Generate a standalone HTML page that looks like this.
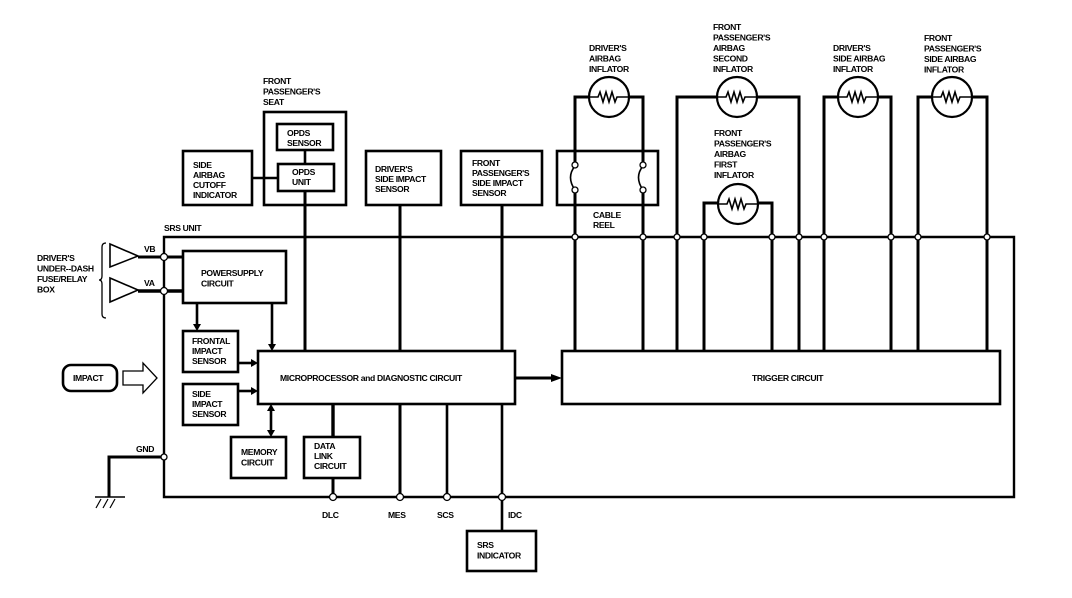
<!DOCTYPE html>
<html><head><meta charset="utf-8"><style>
html,body{margin:0;padding:0;background:#fff;}
svg{display:block;}
text{font-family:"Liberation Sans",sans-serif;font-weight:bold;font-size:8.6px;letter-spacing:-0.35px;fill:#000;}
</style></head><body>
<svg width="1072" height="598" viewBox="0 0 1072 598" xmlns="http://www.w3.org/2000/svg">
<g fill="none" stroke="#000" stroke-width="2.6">
<path d="M164 237 H1014 V497 H164 Z" stroke-width="2.4"/>
<rect x="264" y="112" width="82" height="93"/>
<rect x="277" y="124" width="56" height="26"/>
<rect x="278" y="164" width="56" height="27"/>
<line x1="305" y1="150" x2="305" y2="164"/>
<rect x="183" y="151" width="69" height="54"/>
<line x1="252" y1="178" x2="278" y2="178"/>
<line x1="305" y1="191" x2="305" y2="351" stroke-width="3"/>
<rect x="366" y="151" width="75" height="54"/>
<line x1="400" y1="205" x2="400" y2="351" stroke-width="3"/>
<line x1="400" y1="404" x2="400" y2="497" stroke-width="3"/>
<rect x="461" y="151" width="81" height="54"/>
<line x1="502" y1="205" x2="502" y2="351" stroke-width="3"/>
<line x1="502" y1="404" x2="502" y2="531" stroke-width="2.6"/>
<rect x="467" y="531" width="69" height="40"/>
<path d="M110 244 L138 256 L110 267 Z" stroke-width="1.6"/>
<path d="M110 278 L138 290 L110 302 Z" stroke-width="1.6"/>
<line x1="138" y1="257" x2="183" y2="257" stroke-width="3"/>
<line x1="138" y1="291" x2="183" y2="291" stroke-width="3.4"/>
<path d="M106 243 Q102 243 102 247 V276 Q102 280 99 280 Q102 280 102 284 V314 Q102 318 106 318" stroke-width="1.3"/>
<rect x="183" y="251" width="103" height="52"/>
<line x1="197" y1="303" x2="197" y2="325"/>
<line x1="272" y1="303" x2="272" y2="345"/>
<rect x="183" y="331" width="55" height="41"/>
<rect x="183" y="384" width="55" height="41"/>
<line x1="238" y1="363" x2="252" y2="363"/>
<line x1="238" y1="391" x2="252" y2="391"/>
<rect x="258" y="351" width="257" height="53"/>
<line x1="271" y1="410" x2="271" y2="431"/>
<rect x="231" y="437" width="55" height="41"/>
<line x1="333" y1="404" x2="333" y2="437" stroke-width="3.4"/>
<rect x="304" y="437" width="56" height="41"/>
<line x1="333" y1="478" x2="333" y2="497" stroke-width="3"/>
<line x1="447" y1="404" x2="447" y2="497"/>
<line x1="515" y1="378" x2="552" y2="378" stroke-width="3"/>
<rect x="562" y="351" width="438" height="53"/>
<rect x="63" y="365" width="54" height="26" rx="8"/>
<path d="M123 371 H143 V363 L157 378 L143 393 V385 H123 Z" stroke-width="1.3"/>
<path d="M164 457 H109 V497" stroke-width="3"/>
<line x1="95" y1="497" x2="125" y2="497" stroke-width="1.5"/>
<path d="M101 499 L96 508 M108 499 L103 508 M115 499 L110 508" stroke-width="1.2"/>
<path d="M575 351 V97 H643 V351" stroke-width="3"/>
<path d="M677 351 V97 H799 V351" stroke-width="3"/>
<path d="M704 351 V203 H772 V351" stroke-width="3"/>
<path d="M824 351 V97 H891 V351" stroke-width="3"/>
<path d="M918 351 V97 H987 V351" stroke-width="3"/>
<rect x="557" y="151" width="101" height="54"/>
</g>
<g stroke="#fff" stroke-width="5"><line x1="575" y1="167" x2="575" y2="189"/><line x1="643" y1="167" x2="643" y2="189"/></g>
<g fill="none" stroke="#000" stroke-width="1.6">
<path d="M575 166 Q566 177 575 190"/><path d="M643 166 Q634 177 643 190"/>
</g>
<g fill="#fff" stroke="#000" stroke-width="1.3">
<circle cx="575" cy="165" r="3"/><circle cx="575" cy="190" r="3"/>
<circle cx="643" cy="165" r="3"/><circle cx="643" cy="190" r="3"/>
<circle cx="609" cy="97" r="20" stroke-width="2.2"/>
<circle cx="737" cy="97" r="20" stroke-width="2.2"/>
<circle cx="738" cy="204" r="20" stroke-width="2.2"/>
<circle cx="858" cy="97" r="20" stroke-width="2.2"/>
<circle cx="952" cy="97" r="20" stroke-width="2.2"/>
</g>
<g fill="none" stroke="#000" stroke-width="1.6">
<path d="M589 97 H598 l2 -5 l3 10 l3 -10 l3 10 l3 -10 l3 10 l2 -5 H629"/>
<path d="M717 97 H726 l2 -5 l3 10 l3 -10 l3 10 l3 -10 l3 10 l2 -5 H757"/>
<path d="M718 204 H727 l2 -5 l3 10 l3 -10 l3 10 l3 -10 l3 10 l2 -5 H758"/>
<path d="M838 97 H847 l2 -5 l3 10 l3 -10 l3 10 l3 -10 l3 10 l2 -5 H878"/>
<path d="M932 97 H941 l2 -5 l3 10 l3 -10 l3 10 l3 -10 l3 10 l2 -5 H972"/>
</g>
<g fill="#000">
<path d="M193 324 L201 324 L197 331 Z"/>
<path d="M268 344 L276 344 L272 351 Z"/>
<path d="M251 359 L258 363 L251 367 Z"/>
<path d="M251 387 L258 391 L251 395 Z"/>
<path d="M267 411 L275 411 L271 404 Z"/>
<path d="M267 430 L275 430 L271 437 Z"/>
<path d="M551 374 L562 378 L551 382 Z"/>
</g>
<g fill="#fff" stroke="#000" stroke-width="1.3">
<circle cx="164" cy="257" r="3.5"/><circle cx="164" cy="291" r="3.5"/><circle cx="164" cy="457" r="3"/>
<circle cx="575" cy="237" r="3"/><circle cx="643" cy="237" r="3"/><circle cx="677" cy="237" r="3"/>
<circle cx="704" cy="237" r="3"/><circle cx="772" cy="237" r="3"/><circle cx="799" cy="237" r="3"/>
<circle cx="824" cy="237" r="3"/><circle cx="891" cy="237" r="3"/><circle cx="918" cy="237" r="3"/>
<circle cx="987" cy="237" r="3"/>
<circle cx="333" cy="497" r="3.5"/><circle cx="400" cy="497" r="3.5"/><circle cx="447" cy="497" r="3.5"/><circle cx="502" cy="497" r="3.5"/>
</g>
<text x="263" y="84"><tspan x="263">FRONT</tspan><tspan x="263" dy="10.5">PASSENGER'S</tspan><tspan x="263" dy="10.5">SEAT</tspan></text>
<text x="287" y="136"><tspan x="287">OPDS</tspan><tspan x="287" dy="10">SENSOR</tspan></text>
<text x="292" y="175"><tspan x="292">OPDS</tspan><tspan x="292" dy="10">UNIT</tspan></text>
<text x="193" y="168"><tspan x="193">SIDE</tspan><tspan x="193" dy="10">AIRBAG</tspan><tspan x="193" dy="10">CUTOFF</tspan><tspan x="193" dy="10">INDICATOR</tspan></text>
<text x="375" y="172"><tspan x="375">DRIVER'S</tspan><tspan x="375" dy="10">SIDE IMPACT</tspan><tspan x="375" dy="10">SENSOR</tspan></text>
<text x="472" y="166"><tspan x="472">FRONT</tspan><tspan x="472" dy="10">PASSENGER'S</tspan><tspan x="472" dy="10">SIDE IMPACT</tspan><tspan x="472" dy="10">SENSOR</tspan></text>
<text x="164" y="231">SRS UNIT</text>
<text x="37" y="261"><tspan x="37">DRIVER'S</tspan><tspan x="37" dy="10.5">UNDER--DASH</tspan><tspan x="37" dy="10.5">FUSE/RELAY</tspan><tspan x="37" dy="10.5">BOX</tspan></text>
<text x="144" y="252">VB</text>
<text x="144" y="286">VA</text>
<text x="201" y="276"><tspan x="201">POWERSUPPLY</tspan><tspan x="201" dy="10.5">CIRCUIT</tspan></text>
<text x="192" y="344"><tspan x="192">FRONTAL</tspan><tspan x="192" dy="10">IMPACT</tspan><tspan x="192" dy="10">SENSOR</tspan></text>
<text x="192" y="397"><tspan x="192">SIDE</tspan><tspan x="192" dy="10">IMPACT</tspan><tspan x="192" dy="10">SENSOR</tspan></text>
<text x="73" y="381">IMPACT</text>
<text x="280" y="381">MICROPROCESSOR and DIAGNOSTIC CIRCUIT</text>
<text x="752" y="381">TRIGGER CIRCUIT</text>
<text x="241" y="455"><tspan x="241">MEMORY</tspan><tspan x="241" dy="10.5">CIRCUIT</tspan></text>
<text x="314" y="449"><tspan x="314">DATA</tspan><tspan x="314" dy="10">LINK</tspan><tspan x="314" dy="10">CIRCUIT</tspan></text>
<text x="136" y="452">GND</text>
<text x="322" y="518">DLC</text>
<text x="388" y="518">MES</text>
<text x="437" y="518">SCS</text>
<text x="508" y="518">IDC</text>
<text x="477" y="548"><tspan x="477">SRS</tspan><tspan x="477" dy="10.5">INDICATOR</tspan></text>
<text x="589" y="51"><tspan x="589">DRIVER'S</tspan><tspan x="589" dy="10.5">AIRBAG</tspan><tspan x="589" dy="10.5">INFLATOR</tspan></text>
<text x="713" y="30"><tspan x="713">FRONT</tspan><tspan x="713" dy="10.5">PASSENGER'S</tspan><tspan x="713" dy="10.5">AIRBAG</tspan><tspan x="713" dy="10.5">SECOND</tspan><tspan x="713" dy="10.5">INFLATOR</tspan></text>
<text x="714" y="136"><tspan x="714">FRONT</tspan><tspan x="714" dy="10.5">PASSENGER'S</tspan><tspan x="714" dy="10.5">AIRBAG</tspan><tspan x="714" dy="10.5">FIRST</tspan><tspan x="714" dy="10.5">INFLATOR</tspan></text>
<text x="833" y="51"><tspan x="833">DRIVER'S</tspan><tspan x="833" dy="10.5">SIDE AIRBAG</tspan><tspan x="833" dy="10.5">INFLATOR</tspan></text>
<text x="924" y="41"><tspan x="924">FRONT</tspan><tspan x="924" dy="10.5">PASSENGER'S</tspan><tspan x="924" dy="10.5">SIDE AIRBAG</tspan><tspan x="924" dy="10.5">INFLATOR</tspan></text>
<text x="593" y="218"><tspan x="593">CABLE</tspan><tspan x="593" dy="10">REEL</tspan></text>
</svg>
</body></html>
